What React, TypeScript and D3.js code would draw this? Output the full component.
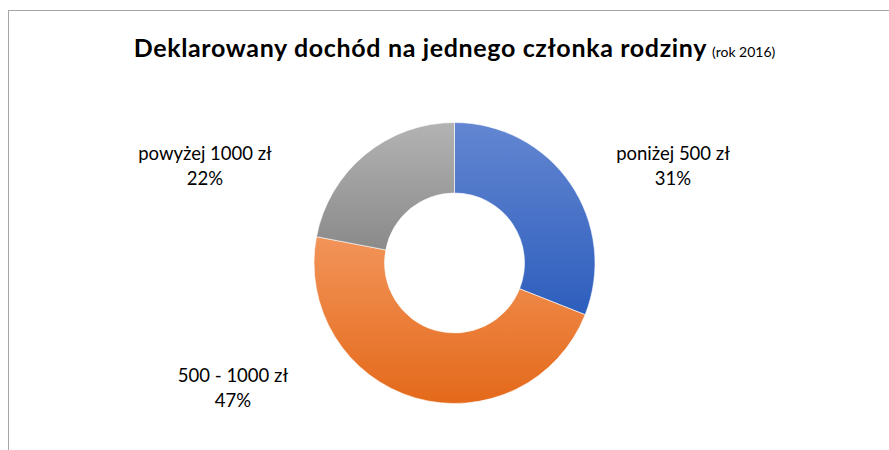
import React, { useEffect, useRef } from "react";
import * as d3 from "d3";

// dane z wykresu
const categories = ["poniżej 500 zł", "500 - 1000 zł", "powyżej 1000 zł"];
const shares = [31, 47, 22];
const labelPercents = ["31%", "47%", "22%"];
const titleMain = "Deklarowany dochód na jednego członka rodziny";
const titleNote = "(rok 2016)";

// gradient: jasny u góry, ciemny u dołu
const gradTop = ["#6386d1", "#f29459", "#b3b3b3"];
const gradBottom = ["#2d5ebd", "#e4691a", "#8a8a8a"];

// pozycje etykiet (Excel ustawia je ręcznie)
const labelPos = [
  { x: 673, y: 160 },
  { x: 233, y: 382 },
  { x: 205, y: 160 },
];

const App = () => {
  const svgRef = useRef<SVGSVGElement | null>(null);

  useEffect(() => {
    const width = 889;
    const height = 450;
    const cx = 454.5;
    const cy = 263;
    const outerR = 140.5;
    const innerR = 70;
    const font = "Lato, 'Open Sans', sans-serif";

    const svg = d3.select(svgRef.current);
    svg.selectAll("*").remove();
    svg.attr("width", width).attr("height", height);

    svg
      .append("rect")
      .attr("width", width)
      .attr("height", height)
      .attr("fill", "#ffffff");

    // ramka obszaru wykresu (przycięta)
    svg
      .append("rect")
      .attr("x", 8.5)
      .attr("y", 10.5)
      .attr("width", 1000)
      .attr("height", 600)
      .attr("fill", "none")
      .attr("stroke", "#a6a6a6")
      .attr("stroke-width", 1);

    const defs = svg.append("defs");
    categories.forEach((c, i) => {
      const g = defs
        .append("linearGradient")
        .attr("id", `grad${i}`)
        .attr("x1", 0)
        .attr("y1", 0)
        .attr("x2", 0)
        .attr("y2", 1);
      g.append("stop").attr("offset", "0%").attr("stop-color", gradTop[i]);
      g.append("stop").attr("offset", "100%").attr("stop-color", gradBottom[i]);
    });

    // tytuł
    const title = svg
      .append("text")
      .attr("x", cx)
      .attr("y", 57)
      .attr("text-anchor", "middle")
      .style("font-family", font)
      .attr("fill", "#000000");
    title
      .append("tspan")
      .attr("font-size", 25)
      .attr("font-weight", "bold")
      .attr("letter-spacing", 0.65)
      .text(titleMain);
    title
      .append("tspan")
      .attr("font-size", 14)
      .attr("letter-spacing", 0)
      .attr("dx", 5)
      .text(titleNote);

    const pie = d3
      .pie<number>()
      .sort(null)
      .value((d) => d);
    const arc = d3
      .arc<d3.PieArcDatum<number>>()
      .innerRadius(innerR)
      .outerRadius(outerR);

    const g = svg.append("g").attr("transform", `translate(${cx},${cy})`);
    g.selectAll("path.slice")
      .data(pie(shares))
      .enter()
      .append("path")
      .attr("class", "slice")
      .attr("d", arc)
      .attr("fill", (d, i) => `url(#grad${i})`)
      .attr("stroke", "#ffffff")
      .attr("stroke-width", 0.6);

    // etykiety danych
    categories.forEach((c, i) => {
      const t = svg
        .append("text")
        .attr("text-anchor", "middle")
        .style("font-family", font)
        .attr("font-size", 18.5)
        .attr("fill", "#000000");
      t.append("tspan").attr("x", labelPos[i].x).attr("y", labelPos[i].y).text(c);
      t.append("tspan")
        .attr("x", labelPos[i].x)
        .attr("y", labelPos[i].y + 25)
        .text(labelPercents[i]);
    });
  }, []);

  return (
    <svg
      ref={svgRef}
      style={{ position: "absolute", left: 0, top: 0, display: "block" }}
    />
  );
};

export default App;
